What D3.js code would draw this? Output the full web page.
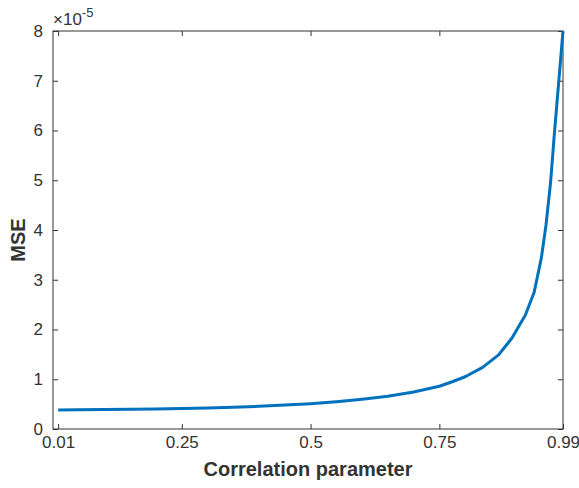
<!DOCTYPE html>
<html>
<head>
<meta charset="utf-8">
<script src="https://cdn.jsdelivr.net/npm/d3@7"></script>
<style>
  html, body { margin: 0; padding: 0; background: #fff; }
  svg { display: block; }
  text { font-family: "Liberation Sans", Arial, Helvetica, sans-serif; fill: #333; }
</style>
</head>
<body>
<svg id="chart" width="579" height="488"></svg>
<script>
// Correlation parameter values (x) and MSE values in units of 1e-5 (y)
const rho = [0.01, 0.05, 0.1, 0.15, 0.2, 0.25, 0.3, 0.35, 0.4, 0.45, 0.5, 0.55, 0.6, 0.65, 0.7, 0.75, 0.775, 0.8, 0.834, 0.865, 0.891, 0.917, 0.934, 0.948, 0.957, 0.966, 0.973, 0.99];
const mse = [0.38, 0.385, 0.39, 0.395, 0.40, 0.41, 0.42, 0.435, 0.455, 0.48, 0.51, 0.55, 0.60, 0.66, 0.745, 0.86, 0.95, 1.05, 1.24, 1.49, 1.83, 2.29, 2.75, 3.44, 4.1, 4.97, 5.9, 8.0];
const xTicks = [0.01, 0.25, 0.5, 0.75, 0.99];
const xTickLabels = ["0.01", "0.25", "0.5", "0.75", "0.99"];
const yTicks = [0, 1, 2, 3, 4, 5, 6, 7, 8];
const xTitle = "Correlation parameter";
const yTitle = "MSE";

const svg = d3.select("#chart");
const L = 53, R = 563, T = 31, B = 429;
const x = d3.scaleLinear().domain([0, 0.99]).range([L, R]);
const y = d3.scaleLinear().domain([0, 8]).range([B, T]);
const axisColor = "#333";
const tickLen = 5;

// Box
svg.append("rect").attr("x", L).attr("y", T).attr("width", R - L).attr("height", B - T)
  .attr("fill", "none").attr("stroke", axisColor).attr("stroke-width", 1);

// Bottom axis
const xb = svg.append("g").attr("transform", `translate(0,${B})`)
  .call(d3.axisBottom(x).tickValues(xTicks).tickFormat((d, i) => xTickLabels[i]).tickSizeInner(-tickLen).tickSizeOuter(0).tickPadding(16));
// Top axis ticks
const xt = svg.append("g").attr("transform", `translate(0,${T})`)
  .call(d3.axisTop(x).tickValues(xTicks).tickFormat("").tickSizeInner(-tickLen).tickSizeOuter(0));
// Left axis
const yl = svg.append("g").attr("transform", `translate(${L},0)`)
  .call(d3.axisLeft(y).tickValues(yTicks).tickFormat(d3.format("d")).tickSizeInner(-tickLen).tickSizeOuter(0).tickPadding(10));
// Right axis ticks
const yr = svg.append("g").attr("transform", `translate(${R},0)`)
  .call(d3.axisRight(y).tickValues(yTicks).tickFormat("").tickSizeInner(-tickLen).tickSizeOuter(0));

[xb, xt, yl, yr].forEach(g => {
  g.select(".domain").remove();
  g.selectAll(".tick line").attr("stroke", axisColor);
  g.selectAll(".tick text").attr("fill", "#333").style("font-size", "17px")
    .style("font-family", '"Liberation Sans", Arial, sans-serif');
});
xb.selectAll(".tick text").attr("dy", "0.2em");

// Line
const line = d3.line().x((d, i) => x(rho[i])).y(d => y(d)).curve(d3.curveLinear);
svg.append("path").datum(mse).attr("d", line)
  .attr("fill", "none").attr("stroke", "#0072BD").attr("stroke-width", 3)
  .attr("stroke-linejoin", "round");

// Exponent label
const ex = svg.append("text").attr("x", 53).attr("y", 25).style("font-size", "17px");
ex.append("tspan").text("\u00d710");
ex.append("tspan").attr("dy", -8).style("font-size", "13px").text("-5");

// Axis titles
svg.append("text").attr("x", (L + R) / 2).attr("y", 476).attr("text-anchor", "middle")
  .style("font-size", "20px").style("font-weight", "bold").text(xTitle);
svg.append("text").attr("transform", `translate(25,${(T + B) / 2 + 10}) rotate(-90)`)
  .attr("text-anchor", "middle").style("font-size", "20px").style("font-weight", "bold").text(yTitle);
</script>
</body>
</html>
